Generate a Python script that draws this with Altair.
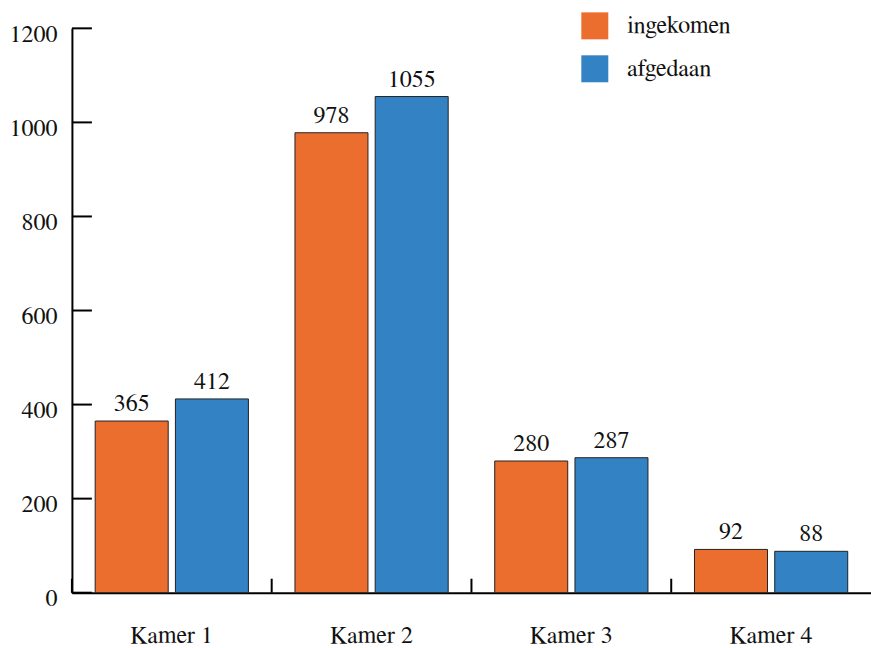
import altair as alt
import pandas as pd

# Cases per chamber: received vs. settled
kamers = ["Kamer 1", "Kamer 2", "Kamer 3", "Kamer 4"]
ingekomen = [365, 978, 280, 92]
afgedaan = [412, 1055, 287, 88]
series = ["ingekomen", "afgedaan"]
colors = ["#EB6E2F", "#3282C4"]
y_ticks = [0, 200, 400, 600, 800, 1000, 1200]

FONT = "FreeSerif"

rows = []
for k, a, b in zip(kamers, ingekomen, afgedaan):
    rows.append({"kamer": k, "reeks": series[0], "aantal": a})
    rows.append({"kamer": k, "reeks": series[1], "aantal": b})
df = pd.DataFrame(rows)

x_scale = alt.Scale(domain=kamers, paddingInner=0, paddingOuter=0)
y_scale = alt.Scale(domain=[0, 1200], nice=False)
off_scale = alt.Scale(domain=series, paddingInner=0.09, paddingOuter=0.29)

x_enc = alt.X(
    "kamer:N", scale=x_scale, sort=kamers, title=None,
    axis=alt.Axis(labelAngle=0, ticks=False, tickSize=0, domainColor="black",
                  domainWidth=2, labelFont=FONT, labelFontSize=24,
                  labelColor="#111", labelPadding=31),
)
y_enc = alt.Y(
    "aantal:Q", scale=y_scale, title=None,
    axis=alt.Axis(values=y_ticks, format="d", ticks=False, tickSize=0,
                  grid=False, domainColor="black", domainWidth=2,
                  labelFont=FONT, labelFontSize=24, labelColor="#111",
                  labelPadding=15, labelBaseline="middle", labelOffset=6),
)

bars = alt.Chart(df).mark_bar(stroke="#222", strokeWidth=1).encode(
    x=x_enc,
    xOffset=alt.XOffset("reeks:N", scale=off_scale, sort=series),
    y=y_enc,
    color=alt.Color(
        "reeks:N", sort=series,
        scale=alt.Scale(domain=series, range=colors),
        legend=alt.Legend(
            title=None, orient="none", legendX=510, legendY=-16, padding=0,
            symbolType="square", symbolSize=729, symbolStrokeWidth=0,
            symbolOpacity=1, labelFont=FONT, labelFontSize=24,
            labelColor="#111", labelOffset=19, rowPadding=16,
        ),
    ),
)

labels = alt.Chart(df).mark_text(
    baseline="alphabetic", dy=-10, font=FONT, fontSize=24, color="#111"
).encode(
    x=alt.X("kamer:N", scale=x_scale, sort=kamers),
    xOffset=alt.XOffset("reeks:N", scale=off_scale, sort=series),
    y=alt.Y("aantal:Q", scale=y_scale),
    text="aantal:Q",
)

# inward tick marks on both axes
ytick_df = pd.DataFrame({"v": y_ticks})
yticks = alt.Chart(ytick_df).mark_rule(color="black", strokeWidth=2).encode(
    y=alt.Y("v:Q", scale=y_scale),
    x=alt.value(0),
    x2=alt.value(20),
)

xtick_df = pd.DataFrame({"kamer": kamers})
xticks = alt.Chart(xtick_df).mark_rule(color="black", strokeWidth=2).encode(
    x=alt.X("kamer:N", scale=x_scale, sort=kamers, bandPosition=0),
    y=alt.value(551),
    y2=alt.value(565),
)

chart = alt.layer(bars, labels, yticks, xticks).properties(
    width=800,
    height=565,
    autosize="none",
    padding={"left": 72, "top": 28, "right": 0, "bottom": 55},
).configure_view(stroke=None)

chart.save("out.html", embed_options={"renderer": "svg", "actions": False})
